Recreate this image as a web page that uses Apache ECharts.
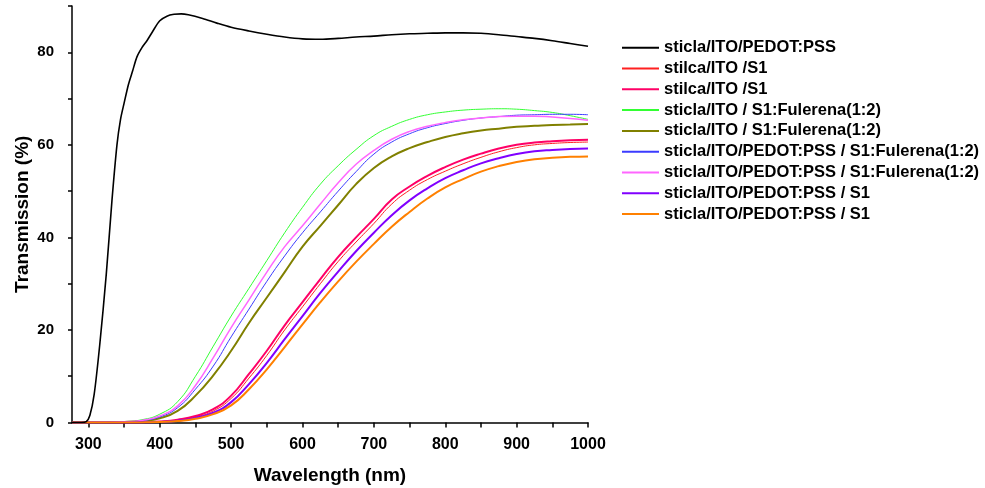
<!DOCTYPE html>
<html>
<head>
<meta charset="utf-8">
<script src="https://cdn.jsdelivr.net/npm/echarts@6/dist/echarts.min.js"></script>
<style>html,body{margin:0;padding:0;background:#fff}#c{width:985px;height:488px}</style>
</head>
<body>
<div id="c"></div>
<script>
// ---- DATA ----
const wlBlack = [277,290,297,302,308,316,325,333,340,345,350,356,362,368,375,382,390,400,410,420,430,440,460,480,500,525,550,575,600,625,650,675,700,725,750,775,800,825,850,875,900,925,950,975,1000];
const tBlack  = [0,0,0.2,1.5,6,17,32,48,60,65.5,69,73,76,79,81,82.5,84.5,86.8,87.8,88.2,88.3,88.1,87.3,86.3,85.4,84.6,83.9,83.3,82.9,82.8,83.0,83.3,83.5,83.8,84.0,84.1,84.2,84.2,84.1,83.8,83.4,83.0,82.5,81.9,81.3];

const wl = [277,300,325,350,375,400,425,450,475,500,525,550,575,600,625,650,675,700,725,750,775,800,825,850,875,900,925,950,975,1000];
const tRed     = [0,0,0,0,0.04,0.15,0.5,1.2,2.5,5.2,9.6,14.5,20,25,30,34.8,39,43,47.2,50.2,52.5,54.3,55.9,57.3,58.5,59.4,60,60.3,60.5,60.6];
const tMagRed  = [0,0,0,0,0.05,0.2,0.6,1.4,2.9,5.8,10.5,15.5,21,26,31,35.8,40,44,48.2,51,53.3,55.2,56.8,58.1,59.2,60,60.5,60.8,61,61.1];
const tGreen   = [0,0,0.05,0.2,0.6,1.8,4.5,10,16.5,23,29,35,41,46.5,51.5,55.5,59,62,64,65.5,66.5,67.1,67.5,67.7,67.8,67.7,67.4,67.0,66.3,65.5];
const tOlive   = [0,0,0.02,0.1,0.3,0.9,2.5,5.8,10.2,15.5,21.5,27,32.5,38,42.5,47,51.5,55,57.5,59.3,60.6,61.7,62.5,63.1,63.5,63.9,64.1,64.3,64.4,64.5];
const tBlue    = [0,0,0.03,0.12,0.4,1.2,3.2,7.2,12.2,18.5,24.5,30.5,36,41,45.5,50,54.2,58,60.6,62.4,63.7,64.6,65.3,65.8,66.1,66.4,66.5,66.6,66.6,66.5];
const tPink    = [0,0,0.03,0.15,0.45,1.4,3.6,8,14,20.5,26.5,32.5,38,42.5,47.2,51.8,55.8,58.8,61.2,62.9,64,64.8,65.4,65.8,66.1,66.2,66.2,66.0,65.7,65.3];
const tPurple  = [0,0,0,0,0.03,0.12,0.4,1.0,2.1,4.4,8.3,12.9,18,23,28,32.6,37,41,44.8,48,50.6,52.8,54.5,56,57.1,58,58.6,58.9,59.1,59.2];
const tOrange  = [0,0,0,0,0.02,0.1,0.3,0.8,1.8,3.7,7.2,11.5,16.3,21.2,26,30.5,34.7,38.6,42.3,45.5,48.4,50.8,52.6,54.2,55.4,56.3,56.9,57.2,57.4,57.5];

const names = [
  'sticla/ITO/PEDOT:PSS',
  'stilca/ITO /S1',
  'stilca/ITO /S1 ',
  'sticla/ITO / S1:Fulerena(1:2)',
  'sticla/ITO / S1:Fulerena(1:2) ',
  'sticla/ITO/PEDOT:PSS / S1:Fulerena(1:2)',
  'sticla/ITO/PEDOT:PSS / S1:Fulerena(1:2) ',
  'sticla/ITO/PEDOT:PSS / S1',
  'sticla/ITO/PEDOT:PSS / S1 '
];
const xLabels = [300,400,500,600,700,800,900,1000];
const xTicks = [300,350,400,450,500,550,600,650,700,750,800,850,900,950,1000];

// ---- CHART ----
const font = '"Liberation Sans", Arial, sans-serif';
const zip = (xs, ys) => xs.map((x, i) => [x, ys[i]]);
const styles = [
  {c:'#000000', w:1.6, d: zip(wlBlack, tBlack)},
  {c:'#ff2020', w:1, d: zip(wl, tRed)},
  {c:'#ff0066', w:2, d: zip(wl, tMagRed)},
  {c:'#33ff33', w:1, d: zip(wl, tGreen)},
  {c:'#808000', w:2, d: zip(wl, tOlive)},
  {c:'#3b3bff', w:1, d: zip(wl, tBlue)},
  {c:'#ff66ff', w:1.5, d: zip(wl, tPink)},
  {c:'#8000ff', w:2, d: zip(wl, tPurple)},
  {c:'#ff8000', w:2, d: zip(wl, tOrange)}
];

const chart = echarts.init(document.getElementById('c'));
chart.setOption({
  animation: false,
  backgroundColor: '#fff',
  grid: {left: 72, right: 397, top: 6, bottom: 65.5, containLabel: false, outerBoundsMode: 'none'},
  legend: {
    orient: 'vertical', left: 616, top: 34.2,
    itemWidth: 37, itemHeight: 14, itemGap: 3.8,
    data: names,
    itemStyle: {opacity: 0},
    textStyle: {fontFamily: font, fontWeight: 'bold', fontSize: 16.5, color: '#000'}
  },
  xAxis: {
    type: 'value', min: 277, max: 1000,
    name: 'Wavelength (nm)', nameLocation: 'middle', nameGap: 44, nameMoveOverlap: false,
    nameTextStyle: {fontFamily: font, fontWeight: 'bold', fontSize: 19, color: '#000'},
    axisLine: {show: true, lineStyle: {color: '#000', width: 1.5}},
    axisTick: {show: true, length: 5, inside: false, customValues: xTicks, lineStyle: {color: '#000', width: 1.5}},
    axisLabel: {customValues: xLabels, margin: 14, fontFamily: font, fontWeight: 'bold', fontSize: 16, color: '#000',
      formatter: v => String(v)},
    splitLine: {show: false}
  },
  yAxis: {
    type: 'value', min: 0, max: 90, interval: 10,
    name: 'Transmission (%)', nameLocation: 'middle', nameGap: 40, nameMoveOverlap: false,
    nameTextStyle: {fontFamily: font, fontWeight: 'bold', fontSize: 19, color: '#000'},
    axisLine: {show: true, lineStyle: {color: '#000', width: 1.5}},
    axisTick: {show: true, length: 4, inside: false, lineStyle: {color: '#000', width: 1.5}},
    axisLabel: {margin: 18, fontFamily: font, fontWeight: 'bold', fontSize: 15, color: '#000',
      formatter: v => (v % 20 === 0 ? String(v) : '')},
    splitLine: {show: false}
  },
  series: styles.map((s, i) => ({
    name: names[i], type: 'line', data: s.d,
    showSymbol: false, symbol: 'none', smooth: i === 0 ? 0.3 : 0.5,
    lineStyle: {color: s.c, width: s.w},
    itemStyle: {color: s.c},
    z: 2 + (i === 0 ? 9 : 0)
  }))
});
</script>
</body>
</html>
